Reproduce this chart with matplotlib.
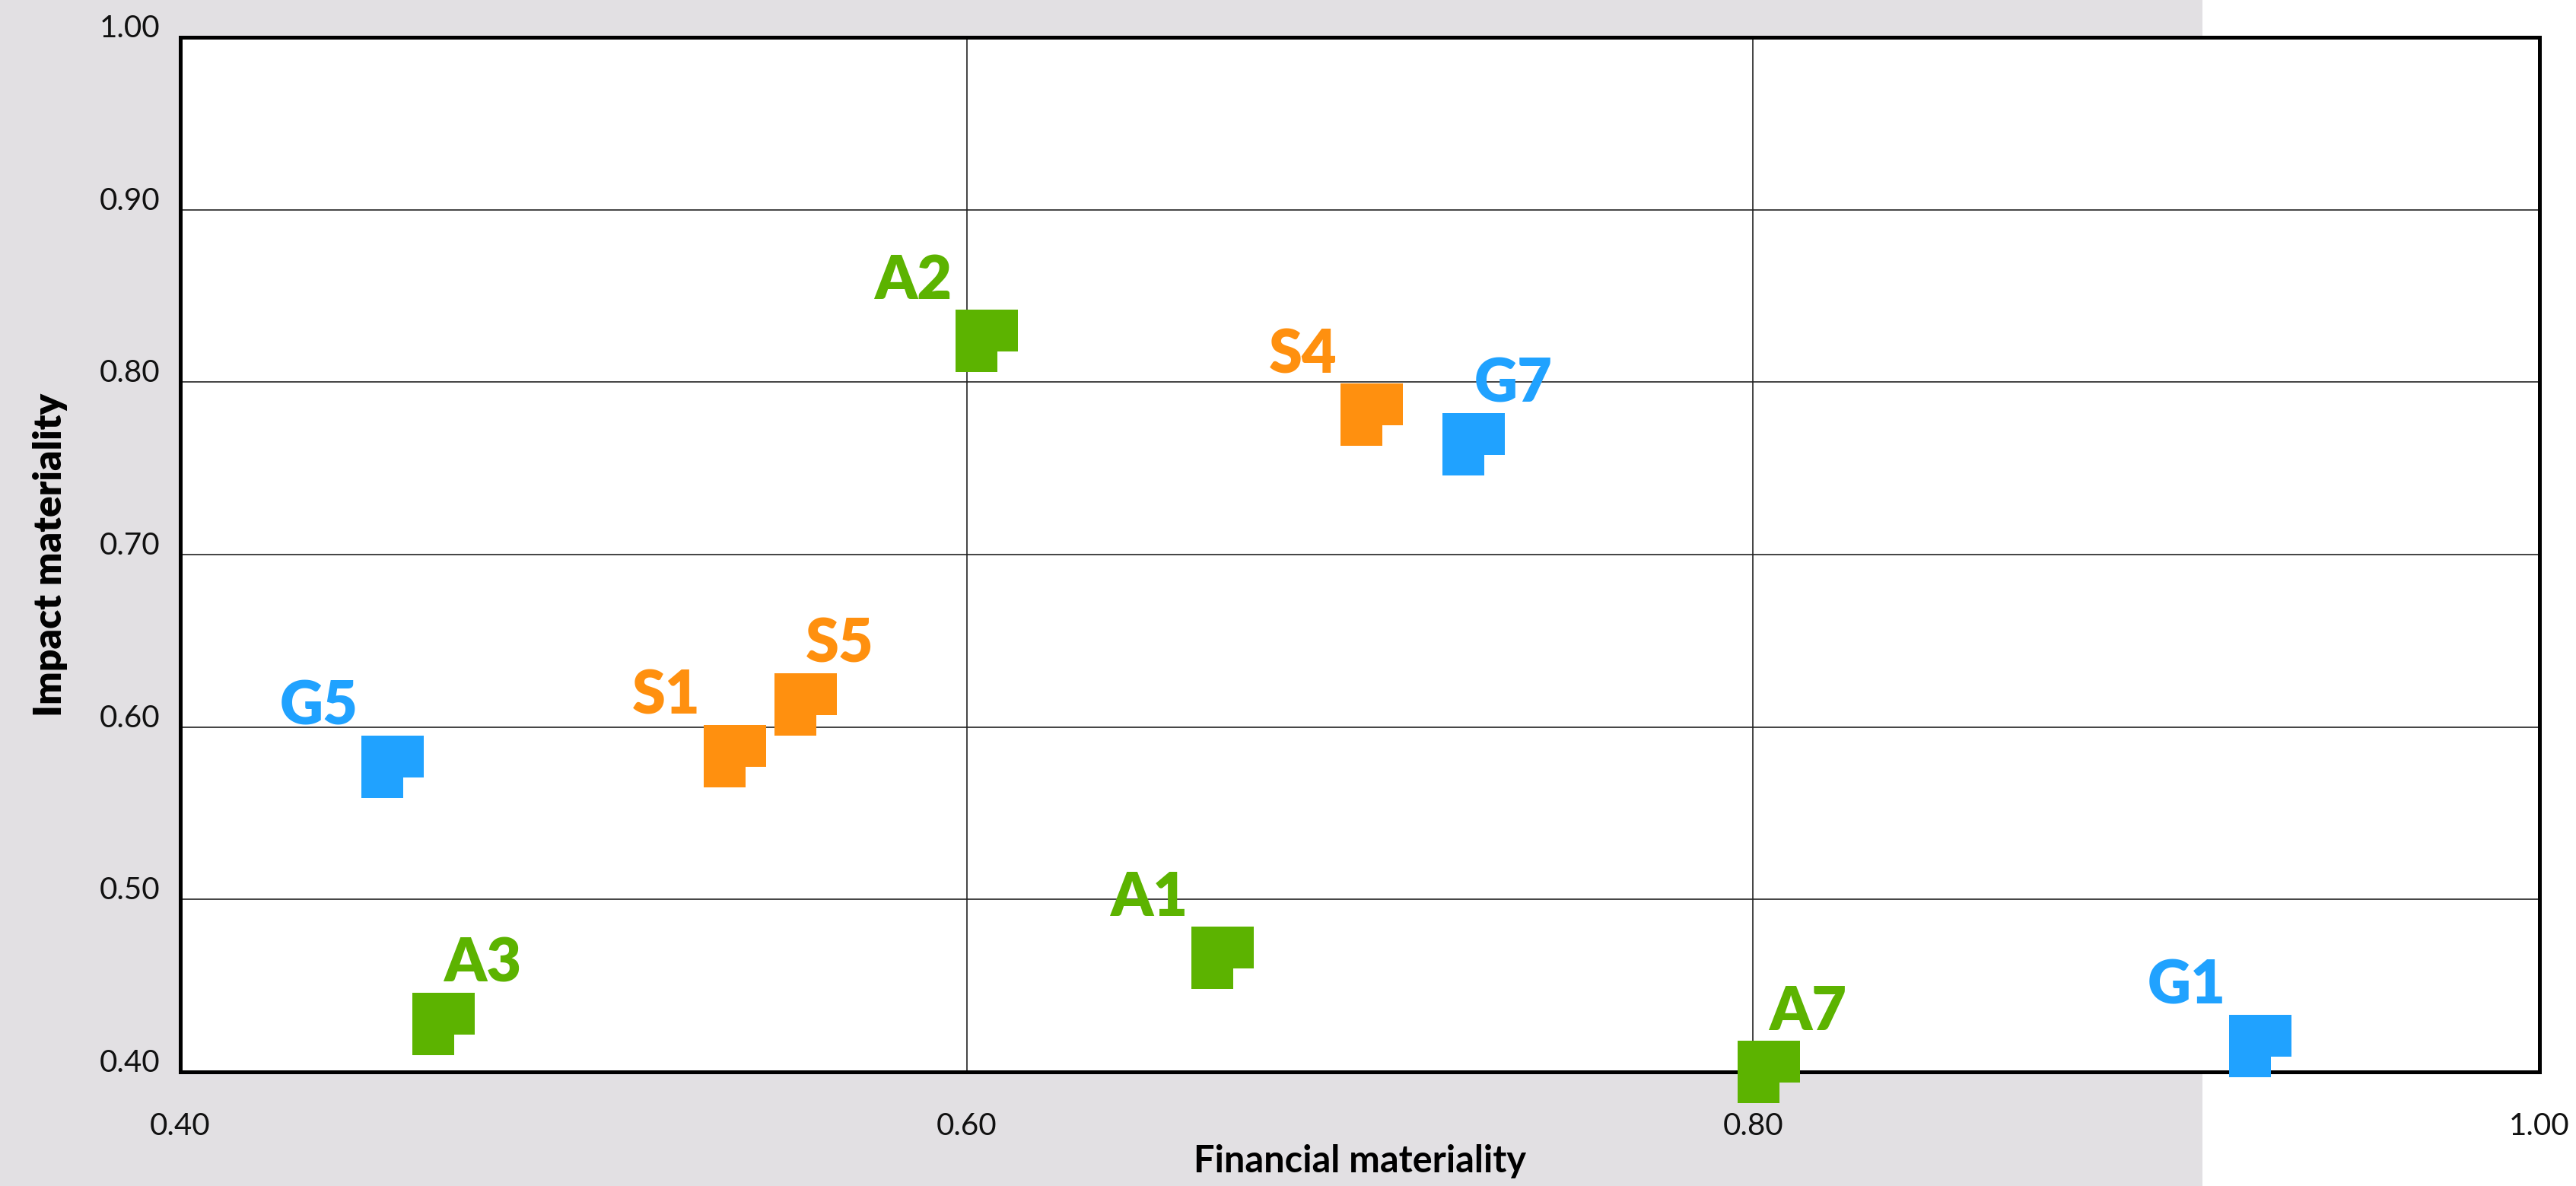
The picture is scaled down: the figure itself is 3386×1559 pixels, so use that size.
import matplotlib
matplotlib.use("Agg")
import matplotlib.pyplot as plt
from matplotlib.path import Path
from matplotlib.patches import Rectangle

# ---- data ----
labels = ["G5", "A3", "S1", "S5", "A2", "A1", "S4", "G7", "A7", "G1"]
financial = [0.454, 0.467, 0.541, 0.559, 0.605, 0.665, 0.703, 0.729, 0.804, 0.929]
impact = [0.577, 0.428, 0.583, 0.613, 0.824, 0.466, 0.781, 0.764, 0.400, 0.415]
groups = ["G", "A", "S", "S", "A", "A", "S", "G", "A", "G"]

x_ticks = [0.40, 0.60, 0.80, 1.00]
x_ticklabels = ["0.40", "0.60", "0.80", "1.00"]
y_ticks = [0.40, 0.50, 0.60, 0.70, 0.80, 0.90, 1.00]
y_ticklabels = ["0.40", "0.50", "0.60", "0.70", "0.80", "0.90", "1.00"]

# ---- styles ----
colors = {"A": "#5cb300", "S": "#ff900f", "G": "#20a2ff"}
label_right = {"G7", "S5", "A3", "A7"}   # labels placed upper-right of the marker

W, H, DPI = 3386, 1559, 100
fig = plt.figure(figsize=(W / DPI, H / DPI), dpi=DPI, facecolor="white")
fig.patches.append(Rectangle((0, 0), 2895 / W, 1, transform=fig.transFigure,
                             facecolor="#e2e0e3", edgecolor="none", zorder=-10))

ax = fig.add_axes([237 / W, 1 - 1409 / H, (3338 - 237) / W, (1409 - 49) / H])
ax.set_facecolor("white")
ax.set_xlim(0.40, 1.00)
ax.set_ylim(0.40, 1.00)

ax.set_xticks(x_ticks)
ax.set_xticklabels(x_ticklabels)
ax.set_yticks(y_ticks)
ax.set_yticklabels(y_ticklabels)
ax.tick_params(length=0, labelsize=29, colors="black")
ax.tick_params(axis="x", pad=38)
ax.tick_params(axis="y", pad=19)
for t in ax.get_xticklabels() + ax.get_yticklabels():
    t.set_fontfamily(["Lato", "DejaVu Sans"])
    t.set_fontweight("normal")
    t.set_color("#111111")
for t in ax.get_yticklabels():
    t.set_verticalalignment("baseline")

ax.grid(True, color="#222222", linewidth=1.2, zorder=0)
ax.set_axisbelow(True)
for s in ax.spines.values():
    s.set_linewidth(3.6)
    s.set_color("black")
    s.set_zorder(3)

ax.set_xlabel("Financial materiality", fontsize=35, fontweight="bold",
              fontfamily=["Lato", "DejaVu Sans"], labelpad=4)
ax.set_ylabel("Impact materiality", fontsize=37, fontweight="heavy",
              fontfamily=["Lato", "DejaVu Sans"], labelpad=30)

# notched square marker
t3 = 1 / 3
verts = [(-1, -1), (t3, -1), (t3, -t3), (1, -t3), (1, 1), (-1, 1), (-1, -1)]
codes = [Path.MOVETO] + [Path.LINETO] * 5 + [Path.CLOSEPOLY]
marker = Path(verts, codes)
msize = 59  # points

for lab, x, y, g in zip(labels, financial, impact, groups):
    ax.plot([x], [y], linestyle="none", marker=marker, markersize=msize,
            color=colors[g], markeredgewidth=0, clip_on=False, zorder=5)
    half = msize / 2
    if lab in label_right:
        ax.annotate(lab, (x, y), xytext=(0, half + 1), textcoords="offset points",
                    ha="left", va="bottom", fontsize=57, fontweight="heavy",
                    color=colors[g], fontfamily=["Lato", "DejaVu Sans"],
                    annotation_clip=False, zorder=6)
    else:
        ax.annotate(lab, (x, y), xytext=(-half - 3, half + 1), textcoords="offset points",
                    ha="right", va="bottom", fontsize=57, fontweight="heavy",
                    color=colors[g], fontfamily=["Lato", "DejaVu Sans"],
                    annotation_clip=False, zorder=6)

fig.savefig("out.png", dpi=DPI, facecolor=fig.get_facecolor())
